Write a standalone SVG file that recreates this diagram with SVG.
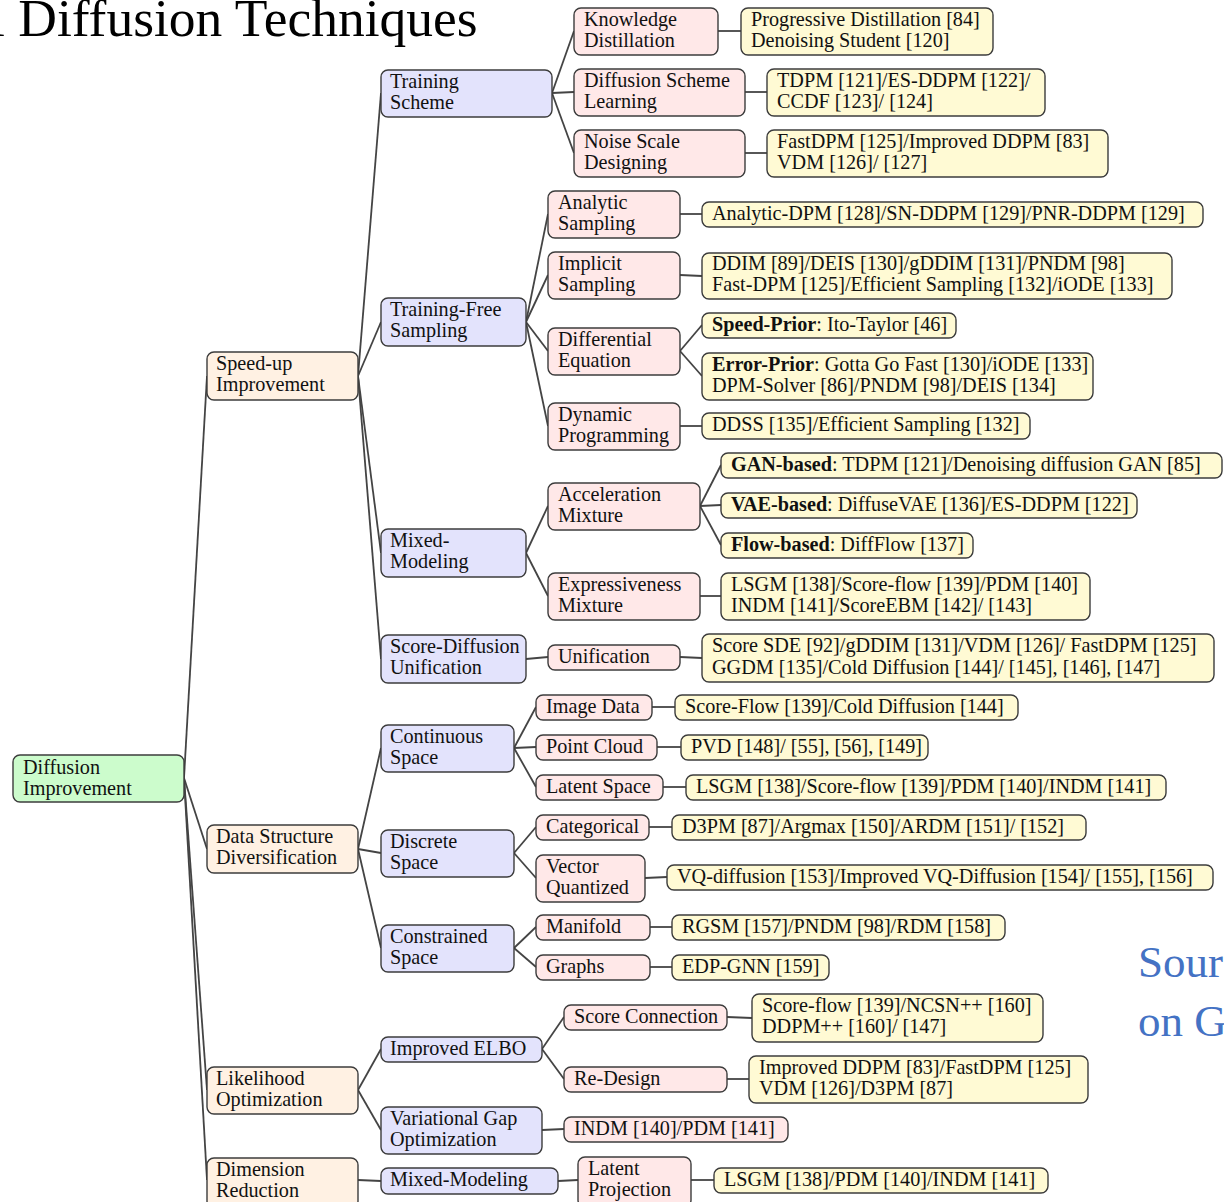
<svg xmlns="http://www.w3.org/2000/svg" width="1224" height="1202" viewBox="0 0 1224 1202">
<style>
.n rect{stroke:#3c3c3c;stroke-width:1.4}
.r{fill:#ccfccc}.a{fill:#fff1e3}.b{fill:#e3e3fc}.c{fill:#ffe8e8}.d{fill:#fffad4}
text{font-family:"Liberation Serif","Times New Roman",serif;font-size:20.2px;fill:#111}
.e line{stroke:#444;stroke-width:1.8}
.big{font-size:53.5px;fill:#000}
.src{font-size:45px;fill:#4472c4}
</style>
<rect width="1224" height="1202" fill="#fff"/>
<text class="big" x="-10" y="36">l Diffusion Techniques</text>
<text class="src" x="1138" y="977">Sour</text>
<text class="src" x="1138" y="1036">on G</text>
<g class="e">
<line x1="184" y1="778" x2="207" y2="376"/>
<line x1="184" y1="778" x2="207" y2="849"/>
<line x1="184" y1="778" x2="207" y2="1090"/>
<line x1="184" y1="778" x2="207" y2="1180"/>
<line x1="358" y1="376" x2="381" y2="93"/>
<line x1="358" y1="376" x2="381" y2="322"/>
<line x1="358" y1="376" x2="381" y2="553"/>
<line x1="358" y1="376" x2="381" y2="659"/>
<line x1="358" y1="849" x2="381" y2="748"/>
<line x1="358" y1="849" x2="381" y2="853"/>
<line x1="358" y1="849" x2="381" y2="948"/>
<line x1="358" y1="1090" x2="381" y2="1049"/>
<line x1="358" y1="1090" x2="381" y2="1130"/>
<line x1="358" y1="1180" x2="381" y2="1181"/>
<line x1="552" y1="93" x2="574" y2="31"/>
<line x1="552" y1="93" x2="574" y2="92"/>
<line x1="552" y1="93" x2="574" y2="153"/>
<line x1="718" y1="31" x2="741" y2="31"/>
<line x1="745" y1="92" x2="767" y2="92"/>
<line x1="745" y1="153" x2="767" y2="153"/>
<line x1="526" y1="322" x2="548" y2="214"/>
<line x1="526" y1="322" x2="548" y2="275"/>
<line x1="526" y1="322" x2="548" y2="351"/>
<line x1="526" y1="322" x2="548" y2="426"/>
<line x1="680" y1="214" x2="702" y2="214"/>
<line x1="680" y1="275" x2="702" y2="276"/>
<line x1="680" y1="351" x2="702" y2="325"/>
<line x1="680" y1="351" x2="702" y2="376"/>
<line x1="680" y1="426" x2="702" y2="426"/>
<line x1="526" y1="553" x2="548" y2="506"/>
<line x1="526" y1="553" x2="548" y2="596"/>
<line x1="700" y1="506" x2="721" y2="465"/>
<line x1="700" y1="506" x2="721" y2="505"/>
<line x1="700" y1="506" x2="721" y2="545"/>
<line x1="700" y1="596" x2="721" y2="596"/>
<line x1="526" y1="659" x2="548" y2="657"/>
<line x1="680" y1="657" x2="702" y2="658"/>
<line x1="514" y1="748" x2="536" y2="707"/>
<line x1="514" y1="748" x2="536" y2="747"/>
<line x1="514" y1="748" x2="536" y2="787"/>
<line x1="652" y1="707" x2="675" y2="707"/>
<line x1="657" y1="747" x2="681" y2="747"/>
<line x1="663" y1="787" x2="686" y2="787"/>
<line x1="514" y1="853" x2="536" y2="827"/>
<line x1="514" y1="853" x2="536" y2="878"/>
<line x1="649" y1="827" x2="672" y2="827"/>
<line x1="645" y1="878" x2="667" y2="877"/>
<line x1="514" y1="948" x2="536" y2="927"/>
<line x1="514" y1="948" x2="536" y2="967"/>
<line x1="650" y1="927" x2="672" y2="927"/>
<line x1="650" y1="967" x2="672" y2="967"/>
<line x1="542" y1="1049" x2="564" y2="1017"/>
<line x1="542" y1="1049" x2="564" y2="1079"/>
<line x1="727" y1="1017" x2="752" y2="1018"/>
<line x1="727" y1="1079" x2="749" y2="1079"/>
<line x1="542" y1="1130" x2="564" y2="1129"/>
<line x1="558" y1="1181" x2="578" y2="1180"/>
<line x1="691" y1="1180" x2="714" y2="1180"/>
</g>
<g class="n">
<g id="root"><rect class="r" x="13" y="755" width="171" height="47" rx="7"/><text x="23" y="774">Diffusion</text><text x="23" y="795">Improvement</text></g>

<g id="speedup"><rect class="a" x="207" y="352" width="151" height="48" rx="7"/><text x="216" y="370">Speed-up</text><text x="216" y="391">Improvement</text></g>
<g id="datastruct"><rect class="a" x="207" y="825" width="151" height="48" rx="7"/><text x="216" y="843">Data Structure</text><text x="216" y="864">Diversification</text></g>
<g id="likelihood"><rect class="a" x="207" y="1067" width="151" height="47" rx="7"/><text x="216" y="1085">Likelihood</text><text x="216" y="1106">Optimization</text></g>
<g id="dimension"><rect class="a" x="207" y="1158" width="151" height="50" rx="7"/><text x="216" y="1176">Dimension</text><text x="216" y="1197">Reduction</text></g>

<g id="trainscheme"><rect class="b" x="381" y="70" width="171" height="47" rx="7"/><text x="390" y="88">Training</text><text x="390" y="109">Scheme</text></g>
<g id="trainfree"><rect class="b" x="381" y="298" width="145" height="48" rx="7"/><text x="390" y="316">Training-Free</text><text x="390" y="337">Sampling</text></g>
<g id="mixed"><rect class="b" x="381" y="529" width="145" height="48" rx="7"/><text x="390" y="547">Mixed-</text><text x="390" y="568">Modeling</text></g>
<g id="sdu"><rect class="b" x="381" y="635" width="145" height="48" rx="7"/><text x="390" y="653">Score-Diffusion</text><text x="390" y="674">Unification</text></g>
<g id="contspace"><rect class="b" x="381" y="725" width="133" height="47" rx="7"/><text x="390" y="743">Continuous</text><text x="390" y="764">Space</text></g>
<g id="discspace"><rect class="b" x="381" y="830" width="133" height="47" rx="7"/><text x="390" y="848">Discrete</text><text x="390" y="869">Space</text></g>
<g id="conspace"><rect class="b" x="381" y="925" width="133" height="47" rx="7"/><text x="390" y="943">Constrained</text><text x="390" y="964">Space</text></g>
<g id="elbo"><rect class="b" x="381" y="1037" width="161" height="25" rx="7"/><text x="390" y="1055">Improved ELBO</text></g>
<g id="vargap"><rect class="b" x="381" y="1107" width="161" height="47" rx="7"/><text x="390" y="1125">Variational Gap</text><text x="390" y="1146">Optimization</text></g>
<g id="mixed2"><rect class="b" x="381" y="1168" width="177" height="26" rx="7"/><text x="390" y="1186">Mixed-Modeling</text></g>

<g id="kd"><rect class="c" x="574" y="8" width="144" height="47" rx="7"/><text x="584" y="26">Knowledge</text><text x="584" y="47">Distillation</text></g>
<g id="dsl"><rect class="c" x="574" y="69" width="171" height="47" rx="7"/><text x="584" y="87">Diffusion Scheme</text><text x="584" y="108">Learning</text></g>
<g id="nsd"><rect class="c" x="574" y="130" width="171" height="47" rx="7"/><text x="584" y="148">Noise Scale</text><text x="584" y="169">Designing</text></g>
<g id="kd-l"><rect class="d" x="741" y="8" width="252" height="47" rx="7"/><text x="751" y="26">Progressive Distillation [84]</text><text x="751" y="47">Denoising Student [120]</text></g>
<g id="dsl-l"><rect class="d" x="767" y="69" width="278" height="47" rx="7"/><text x="777" y="87">TDPM [121]/ES-DDPM [122]/</text><text x="777" y="108">CCDF [123]/ [124]</text></g>
<g id="nsd-l"><rect class="d" x="767" y="130" width="341" height="47" rx="7"/><text x="777" y="148">FastDPM [125]/Improved DDPM [83]</text><text x="777" y="169">VDM [126]/ [127]</text></g>

<g id="as"><rect class="c" x="548" y="191" width="132" height="47" rx="7"/><text x="558" y="209">Analytic</text><text x="558" y="230">Sampling</text></g>
<g id="is"><rect class="c" x="548" y="252" width="132" height="47" rx="7"/><text x="558" y="270">Implicit</text><text x="558" y="291">Sampling</text></g>
<g id="de"><rect class="c" x="548" y="328" width="132" height="47" rx="7"/><text x="558" y="346">Differential</text><text x="558" y="367">Equation</text></g>
<g id="dp"><rect class="c" x="548" y="403" width="132" height="47" rx="7"/><text x="558" y="421">Dynamic</text><text x="558" y="442">Programming</text></g>
<g id="as-l"><rect class="d" x="702" y="202" width="501" height="25" rx="7"/><text x="712" y="220">Analytic-DPM [128]/SN-DDPM [129]/PNR-DDPM [129]</text></g>
<g id="is-l"><rect class="d" x="702" y="253" width="470" height="46" rx="7"/><text x="712" y="270">DDIM [89]/DEIS [130]/gDDIM [131]/PNDM [98]</text><text x="712" y="291">Fast-DPM [125]/Efficient Sampling [132]/iODE [133]</text></g>
<g id="de-l1"><rect class="d" x="702" y="313" width="254" height="25" rx="7"/><text x="712" y="331"><tspan font-weight="bold">Speed-Prior</tspan>: Ito-Taylor [46]</text></g>
<g id="de-l2"><rect class="d" x="702" y="353" width="391" height="47" rx="7"/><text x="712" y="371"><tspan font-weight="bold">Error-Prior</tspan>: Gotta Go Fast [130]/iODE [133]</text><text x="712" y="392">DPM-Solver [86]/PNDM [98]/DEIS [134]</text></g>
<g id="dp-l"><rect class="d" x="702" y="413" width="328" height="26" rx="7"/><text x="712" y="431">DDSS [135]/Efficient Sampling [132]</text></g>

<g id="am"><rect class="c" x="548" y="483" width="152" height="47" rx="7"/><text x="558" y="501">Acceleration</text><text x="558" y="522">Mixture</text></g>
<g id="em"><rect class="c" x="548" y="573" width="152" height="47" rx="7"/><text x="558" y="591">Expressiveness</text><text x="558" y="612">Mixture</text></g>
<g id="am-l1"><rect class="d" x="721" y="453" width="501" height="25" rx="7"/><text x="731" y="471"><tspan font-weight="bold">GAN-based</tspan>: TDPM [121]/Denoising diffusion GAN [85]</text></g>
<g id="am-l2"><rect class="d" x="721" y="493" width="416" height="25" rx="7"/><text x="731" y="511"><tspan font-weight="bold">VAE-based</tspan>: DiffuseVAE [136]/ES-DDPM [122]</text></g>
<g id="am-l3"><rect class="d" x="721" y="533" width="252" height="25" rx="7"/><text x="731" y="551"><tspan font-weight="bold">Flow-based</tspan>: DiffFlow [137]</text></g>
<g id="em-l"><rect class="d" x="721" y="573" width="369" height="47" rx="7"/><text x="731" y="591">LSGM [138]/Score-flow [139]/PDM [140]</text><text x="731" y="612">INDM [141]/ScoreEBM [142]/ [143]</text></g>

<g id="unif"><rect class="c" x="548" y="645" width="132" height="25" rx="7"/><text x="558" y="663">Unification</text></g>
<g id="unif-l"><rect class="d" x="702" y="634" width="512" height="48" rx="7"/><text x="712" y="652">Score SDE [92]/gDDIM [131]/VDM [126]/ FastDPM [125]</text><text x="712" y="674">GGDM [135]/Cold Diffusion [144]/ [145], [146], [147]</text></g>

<g id="img"><rect class="c" x="536" y="695" width="116" height="25" rx="7"/><text x="546" y="713">Image Data</text></g>
<g id="pc"><rect class="c" x="536" y="735" width="121" height="25" rx="7"/><text x="546" y="753">Point Cloud</text></g>
<g id="ls"><rect class="c" x="536" y="775" width="127" height="25" rx="7"/><text x="546" y="793">Latent Space</text></g>
<g id="img-l"><rect class="d" x="675" y="695" width="343" height="25" rx="7"/><text x="685" y="713">Score-Flow [139]/Cold Diffusion [144]</text></g>
<g id="pc-l"><rect class="d" x="681" y="735" width="247" height="25" rx="7"/><text x="691" y="753">PVD [148]/ [55], [56], [149]</text></g>
<g id="ls-l"><rect class="d" x="686" y="775" width="480" height="25" rx="7"/><text x="696" y="793">LSGM [138]/Score-flow [139]/PDM [140]/INDM [141]</text></g>

<g id="cat"><rect class="c" x="536" y="815" width="113" height="25" rx="7"/><text x="546" y="833">Categorical</text></g>
<g id="vq"><rect class="c" x="536" y="855" width="109" height="47" rx="7"/><text x="546" y="873">Vector</text><text x="546" y="894">Quantized</text></g>
<g id="cat-l"><rect class="d" x="672" y="815" width="414" height="25" rx="7"/><text x="682" y="833">D3PM [87]/Argmax [150]/ARDM [151]/ [152]</text></g>
<g id="vq-l"><rect class="d" x="667" y="865" width="546" height="25" rx="7"/><text x="677" y="883">VQ-diffusion [153]/Improved VQ-Diffusion [154]/ [155], [156]</text></g>

<g id="man"><rect class="c" x="536" y="915" width="114" height="25" rx="7"/><text x="546" y="933">Manifold</text></g>
<g id="gr"><rect class="c" x="536" y="955" width="114" height="25" rx="7"/><text x="546" y="973">Graphs</text></g>
<g id="man-l"><rect class="d" x="672" y="915" width="333" height="25" rx="7"/><text x="682" y="933">RGSM [157]/PNDM [98]/RDM [158]</text></g>
<g id="gr-l"><rect class="d" x="672" y="955" width="157" height="25" rx="7"/><text x="682" y="973">EDP-GNN [159]</text></g>

<g id="sc"><rect class="c" x="564" y="1005" width="163" height="25" rx="7"/><text x="574" y="1023">Score Connection</text></g>
<g id="rd"><rect class="c" x="564" y="1067" width="163" height="25" rx="7"/><text x="574" y="1085">Re-Design</text></g>
<g id="sc-l"><rect class="d" x="752" y="994" width="291" height="48" rx="7"/><text x="762" y="1012">Score-flow [139]/NCSN++ [160]</text><text x="762" y="1033">DDPM++ [160]/ [147]</text></g>
<g id="rd-l"><rect class="d" x="749" y="1056" width="339" height="47" rx="7"/><text x="759" y="1074">Improved DDPM [83]/FastDPM [125]</text><text x="759" y="1095">VDM [126]/D3PM [87]</text></g>
<g id="indm"><rect class="c" x="564" y="1117" width="224" height="25" rx="7"/><text x="574" y="1135">INDM [140]/PDM [141]</text></g>

<g id="lp"><rect class="c" x="578" y="1157" width="113" height="50" rx="7"/><text x="588" y="1175">Latent</text><text x="588" y="1196">Projection</text></g>
<g id="lp-l"><rect class="d" x="714" y="1168" width="334" height="25" rx="7"/><text x="724" y="1186">LSGM [138]/PDM [140]/INDM [141]</text></g>
</g>
</svg>
